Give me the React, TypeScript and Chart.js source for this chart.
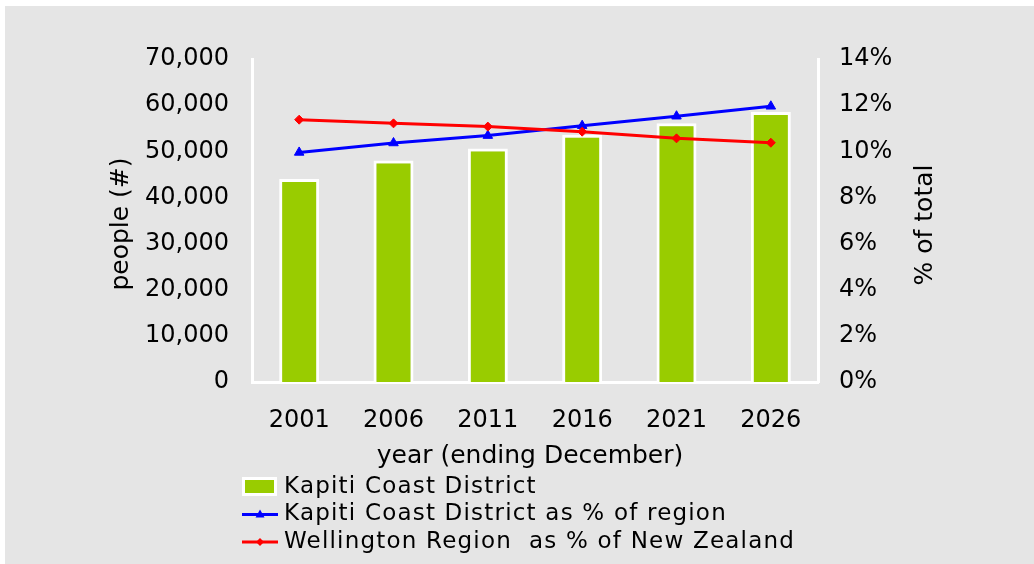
import React, { useEffect, useRef } from "react";
import { Chart, registerables } from "chart.js";

Chart.register(...registerables);

// ---- data ----
const years = ["2001", "2006", "2011", "2016", "2021", "2026"];
const kapitiPopulation = [44000, 48000, 50600, 53600, 56100, 58500];
const kapitiShareOfRegion = [9.95, 10.36, 10.68, 11.11, 11.52, 11.95];
const wellingtonShareOfNZ = [11.37, 11.21, 11.07, 10.85, 10.56, 10.37];

const seriesLabels = [
  "Kapiti Coast District",
  "Kapiti Coast District as % of region",
  "Wellington Region  as % of New Zealand",
];
const xAxisTitle = "year (ending December)";
const yAxisTitle = "people (#)";
const y1AxisTitle = "% of total";

const peopleAxis = { min: 0, max: 70000, step: 10000 };
const percentAxis = { min: 0, max: 14, step: 2 };

// ---- styles ----
const FONT = "'DejaVu Sans', Verdana, sans-serif";
const BAR_COLOR = "#99cc00";
const BLUE = "#0000ff";
const RED = "#ff0000";
const BG = "#e5e5e5";

const overlayPlugin = {
  id: "overlay",
  afterDraw(chart: any) {
    const ctx: CanvasRenderingContext2D = chart.ctx;
    ctx.save();
    ctx.fillStyle = "#000";
    ctx.textAlign = "center";
    ctx.textBaseline = "middle";
    ctx.font = `25px ${FONT}`;
    // x title
    ctx.fillText(xAxisTitle, 525, 450);
    // left title
    ctx.save();
    ctx.translate(116, 218);
    ctx.rotate(-Math.PI / 2);
    ctx.fillText(yAxisTitle, 0, 0);
    ctx.restore();
    // right title
    ctx.save();
    ctx.translate(920, 219);
    ctx.rotate(-Math.PI / 2);
    ctx.fillText(y1AxisTitle, 0, 0);
    ctx.restore();

    // legend
    const rows = [481, 508.5, 536];
    const symX = 237;
    const symW = 36;
    const textX = 279;
    // bar swatch
    ctx.fillStyle = "#ffffff";
    ctx.fillRect(symX, rows[0] - 10, symW - 1, 19);
    ctx.fillStyle = BAR_COLOR;
    ctx.fillRect(symX + 3, rows[0] - 7, symW - 7, 13);
    // line swatches
    const drawLineSym = (y: number, color: string, kind: string) => {
      ctx.strokeStyle = color;
      ctx.lineWidth = 3;
      ctx.beginPath();
      ctx.moveTo(symX, y);
      ctx.lineTo(symX + symW, y);
      ctx.stroke();
      ctx.fillStyle = color;
      const cx = symX + symW / 2;
      ctx.beginPath();
      if (kind === "triangle") {
        ctx.moveTo(cx, y - 5);
        ctx.lineTo(cx + 4.5, y + 3);
        ctx.lineTo(cx - 4.5, y + 3);
      } else {
        ctx.moveTo(cx, y - 4);
        ctx.lineTo(cx + 4, y);
        ctx.lineTo(cx, y + 4);
        ctx.lineTo(cx - 4, y);
      }
      ctx.closePath();
      ctx.fill();
    };
    drawLineSym(rows[1], BLUE, "triangle");
    drawLineSym(rows[2], RED, "diamond");

    ctx.fillStyle = "#000";
    ctx.textAlign = "left";
    ctx.font = `23px ${FONT}`;
    (ctx as any).letterSpacing = "1.2px";
    seriesLabels.forEach((t, i) => ctx.fillText(t, textX, rows[i]));
    ctx.restore();
  },
};

export default function App() {
  const ref = useRef<HTMLCanvasElement | null>(null);

  useEffect(() => {
    if (!ref.current) return;
    Chart.defaults.font.family = FONT;
    const tickFont = { family: FONT, size: 24 };
    const chart = new Chart(ref.current, {
      type: "bar",
      data: {
        labels: years,
        datasets: [
          {
            type: "bar",
            label: seriesLabels[0],
            data: kapitiPopulation,
            backgroundColor: BAR_COLOR,
            borderColor: "#ffffff",
            borderWidth: 3,
            borderSkipped: "start",
            barPercentage: 0.424,
            categoryPercentage: 1,
            yAxisID: "y",
            order: 2,
          } as any,
          {
            type: "line",
            label: seriesLabels[1],
            data: kapitiShareOfRegion,
            borderColor: BLUE,
            backgroundColor: BLUE,
            borderWidth: 3,
            pointStyle: "triangle",
            pointRadius: 5.5,
            pointBorderWidth: 1,
            tension: 0,
            yAxisID: "y1",
            order: 1,
          } as any,
          {
            type: "line",
            label: seriesLabels[2],
            data: wellingtonShareOfNZ,
            borderColor: RED,
            backgroundColor: RED,
            borderWidth: 3,
            pointStyle: "rectRot",
            pointRadius: 4.5,
            pointBorderWidth: 1,
            tension: 0,
            yAxisID: "y1",
            order: 0,
          } as any,
        ],
      },
      options: {
        responsive: false,
        animation: false,
        layout: { padding: { top: 53, left: 0, right: 0, bottom: 0 } },
        plugins: {
          legend: { display: false },
          tooltip: { enabled: false },
          title: { display: false },
        },
        scales: {
          x: {
            z: 1,
            grid: { display: false, drawTicks: false },
            border: { display: true, color: "#ffffff", width: 3 },
            ticks: { color: "#000", font: tickFont, padding: 24 },
            afterFit: (s: any) => {
              s.height = 182;
            },
          },
          y: {
            position: "left",
            min: peopleAxis.min,
            max: peopleAxis.max,
            grid: { display: false, drawTicks: false },
            border: { display: true, color: "#ffffff", width: 3 },
            ticks: {
              stepSize: peopleAxis.step,
              color: "#000",
              font: tickFont,
              padding: 23,
              callback: (v: any) => Number(v).toLocaleString("en-US"),
            },
            afterFit: (s: any) => {
              s.width = 247;
            },
          },
          y1: {
            position: "right",
            min: percentAxis.min,
            max: percentAxis.max,
            grid: { display: false, drawTicks: false },
            border: { display: true, color: "#ffffff", width: 3 },
            ticks: {
              stepSize: percentAxis.step,
              color: "#000",
              font: tickFont,
              padding: 21,
              callback: (v: any) => `${v}%`,
            },
            afterFit: (s: any) => {
              s.width = 216;
            },
          },
        },
      } as any,
      plugins: [overlayPlugin],
    });
    return () => chart.destroy();
  }, []);

  return (
    <div
      style={{
        position: "absolute",
        left: 5,
        top: 6,
        width: 1029,
        height: 558,
        background: BG,
      }}
    >
      <canvas ref={ref} width={1029} height={558} style={{ display: "block" }} />
    </div>
  );
}
